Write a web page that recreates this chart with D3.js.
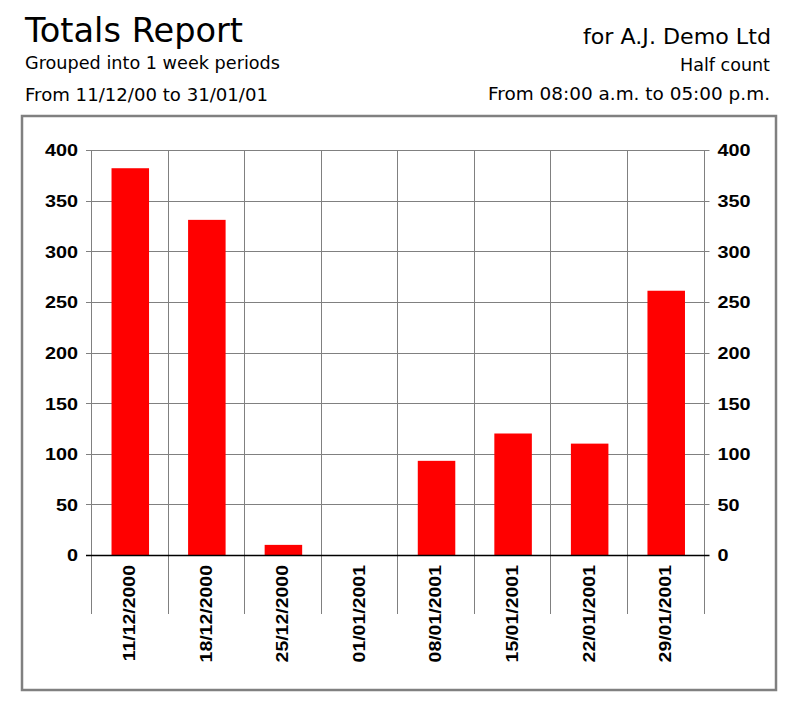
<!DOCTYPE html>
<html>
<head>
<meta charset="utf-8">
<script src="https://cdn.jsdelivr.net/npm/d3@7/dist/d3.min.js"></script>
<style>
  html, body { margin: 0; padding: 0; background: #fff; }
  svg { display: block; }
</style>
</head>
<body>
<script>
// ---- data ----
const categories = ["11/12/2000", "18/12/2000", "25/12/2000", "01/01/2001", "08/01/2001", "15/01/2001", "22/01/2001", "29/01/2001"];
const totals = [382, 331, 10, 0, 93, 120, 110, 261];
const yTicks = [0, 50, 100, 150, 200, 250, 300, 350, 400];
const titleText = "Totals Report";
const leftLines = ["Grouped into 1 week periods", "From 11/12/00 to 31/01/01"];
const rightLines = ["for A.J. Demo Ltd", "Half count", "From 08:00 a.m. to 05:00 p.m."];

const W = 796, H = 703;
const svg = d3.select("body").append("svg").attr("width", W).attr("height", H);

const plot = { left: 91, right: 703.5, top: 150, bottom: 555 };

const x = d3.scaleBand().domain(categories).range([plot.left, plot.right]).paddingInner(0).paddingOuter(0);
const y = d3.scaleLinear().domain([0, 400]).range([plot.bottom, plot.top]);

const font = "'DejaVu Sans', Verdana, sans-serif";
const axisFont = "'Liberation Sans', Arial, sans-serif";

function headerText(t, px, py, size, anchor, len) {
  const el = svg.append("text").attr("x", px).attr("y", py)
    .attr("font-family", font).attr("font-size", size).attr("fill", "#000")
    .attr("text-anchor", anchor).text(t);
  if (len) el.attr("textLength", len).attr("lengthAdjust", "spacingAndGlyphs");
  return el;
}

// header
headerText(titleText, 25, 42, 34.5, "start", 218);
headerText(leftLines[0], 25, 69, 18.3, "start", 255);
headerText(leftLines[1], 25, 101, 18.3, "start", 243);
headerText(rightLines[0], 771, 44, 20.5, "end", 188);
headerText(rightLines[1], 770, 71, 18.3, "end", 90);
headerText(rightLines[2], 770, 100, 18.3, "end", 282);

// outer frame
svg.append("rect").attr("x", 22).attr("y", 116).attr("width", 754).attr("height", 574)
  .attr("fill", "none").attr("stroke", "#808080").attr("stroke-width", 2.5);

const gridColor = "#808080";

// horizontal grid + ticks
svg.append("g").selectAll("line").data(yTicks.filter(d => d !== 0)).join("line")
  .attr("x1", plot.left - 5).attr("x2", plot.right + 6)
  .attr("y1", d => Math.round(y(d)) + 0.5).attr("y2", d => Math.round(y(d)) + 0.5)
  .attr("stroke", gridColor).attr("stroke-width", 1);

// vertical grid lines at band boundaries (extend below baseline)
const bounds = categories.map(c => x(c)).concat([plot.right]);
svg.append("g").selectAll("line").data(bounds).join("line")
  .attr("x1", d => Math.round(d) + 0.5).attr("x2", d => Math.round(d) + 0.5)
  .attr("y1", plot.top).attr("y2", 614)
  .attr("stroke", gridColor).attr("stroke-width", 1);

// bars
const barW = x.bandwidth() * 0.49;
svg.append("g").selectAll("rect").data(categories).join("rect")
  .attr("x", (d) => x(d) + x.bandwidth() / 2 - barW / 2 + 1)
  .attr("width", barW)
  .attr("y", (d, i) => y(totals[i]))
  .attr("height", (d, i) => y(0) - y(totals[i]))
  .attr("fill", "#ff0000");

// zero line
svg.append("line").attr("x1", plot.left - 5).attr("x2", plot.right + 6)
  .attr("y1", Math.round(y(0)) + 0.5).attr("y2", Math.round(y(0)) + 0.5)
  .attr("stroke", "#000").attr("stroke-width", 1.3);

// stretch axis label glyphs horizontally (the original uses a wide bold face)
function stretch(sel, factor) {
  sel.each(function () {
    const len = this.getComputedTextLength();
    d3.select(this).attr("textLength", len * factor).attr("lengthAdjust", "spacingAndGlyphs");
  });
}

// y axes labels (left and right)
const yAxisL = d3.axisLeft(y).tickValues(yTicks).tickSize(0).tickPadding(13);
const yAxisR = d3.axisRight(y).tickValues(yTicks).tickSize(0).tickPadding(14);
const gl = svg.append("g").attr("transform", `translate(${plot.left},0)`).call(yAxisL);
const gr = svg.append("g").attr("transform", `translate(${plot.right},0)`).call(yAxisR);
[gl, gr].forEach(g => {
  g.select(".domain").remove();
  const t = g.selectAll("text").attr("font-family", axisFont).attr("font-weight", "bold")
    .attr("font-size", 16.5).attr("fill", "#000").attr("dy", "0.36em");
  stretch(t, 1.2);
});

// x axis labels rotated
const xAxis = d3.axisBottom(x).tickSize(0).tickPadding(0);
const gx = svg.append("g").attr("transform", `translate(0,${plot.bottom})`).call(xAxis);
gx.select(".domain").remove();
const xt = gx.selectAll("text")
  .attr("font-family", axisFont).attr("font-weight", "bold")
  .attr("font-size", 16.5).attr("fill", "#000")
  .attr("text-anchor", "end")
  .attr("transform", "rotate(-90)")
  .attr("x", -10).attr("y", 0).attr("dx", 0).attr("dy", "0.36em");
stretch(xt, 1.18);
</script>
</body>
</html>
